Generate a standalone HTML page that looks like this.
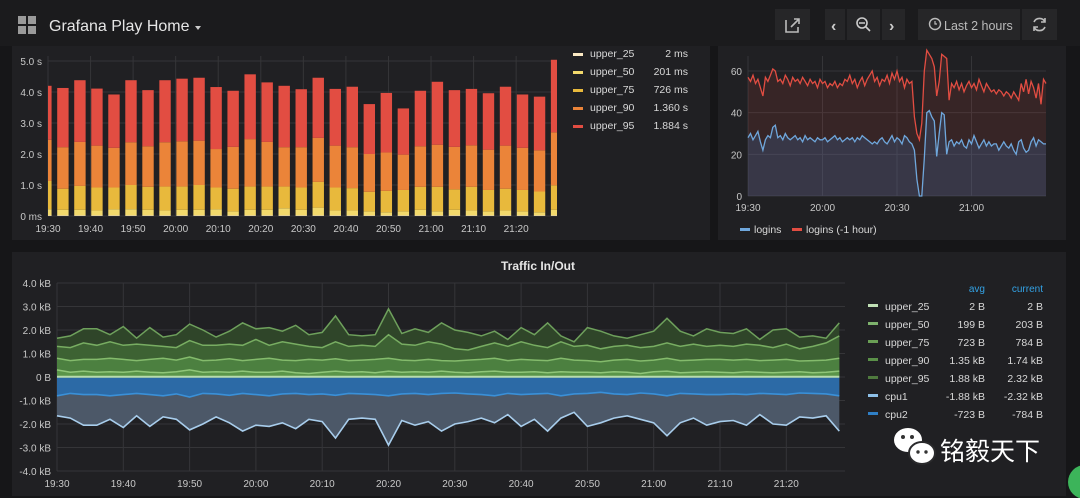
<!DOCTYPE html>
<html><head><meta charset="utf-8"><style>
html,body{margin:0;padding:0;background:#161618;width:1080px;height:498px;overflow:hidden}
svg{display:block;font-family:"Liberation Sans","Noto Sans CJK SC",sans-serif}
</style></head><body>
<svg id="root" width="1080" height="498" viewBox="0 0 1080 498">
<rect x="0" y="0" width="1080" height="498" fill="#161618"/>
<g>
<rect x="0" y="0" width="1080" height="46" fill="#1b1b1d"/>
<g fill="#9a9a9a"><rect x="18" y="16" width="8" height="8"/><rect x="28" y="16" width="8" height="8"/><rect x="18" y="26" width="8" height="8"/><rect x="28" y="26" width="8" height="8"/></g>
<text x="49" y="31" fill="#e6e6e6" font-size="16">Grafana Play Home</text>
<path d="M195 26 l6 0 l-3 4 z" fill="#ccc"/>
<rect x="775" y="9" width="35" height="31" fill="#262628"/>
<path d="M786 20 v12 h12 v-5 M791 27 l8-8 m-5 0 h5 v5" stroke="#bbb" stroke-width="1.6" fill="none"/>
<rect x="825" y="9" width="20" height="31" fill="#262628"/>
<text x="831" y="31" fill="#ccc" font-size="16" font-weight="bold">‹</text>
<rect x="847" y="9" width="33" height="31" fill="#262628"/>
<circle cx="862" cy="23" r="5" stroke="#ccc" stroke-width="1.6" fill="none"/><path d="M859 23 h6 M866 27 l4 4" stroke="#ccc" stroke-width="1.6"/>
<rect x="882" y="9" width="23" height="31" fill="#262628"/>
<text x="889" y="31" fill="#ccc" font-size="16" font-weight="bold">›</text>
<rect x="918" y="9" width="102" height="31" fill="#262628"/>
<circle cx="935" cy="24" r="5.5" stroke="#bbb" stroke-width="1.4" fill="none"/><path d="M935 21 v3 h2" stroke="#bbb" stroke-width="1.2" fill="none"/>
<text x="944" y="30" fill="#bbb" font-size="12.5">Last 2 hours</text>
<rect x="1022" y="9" width="35" height="31" fill="#262628"/>
<path d="M1034 22 a6 6 0 0 1 11 0 M1045 27 a6 6 0 0 1 -11 0 M1045 18 v4 h-4 M1034 31 v-4 h4" stroke="#bbb" stroke-width="1.6" fill="none"/>
</g>
<rect x="12" y="46" width="698" height="194" fill="#202023"/>
<rect x="718" y="46" width="348" height="194" fill="#202023"/>
<rect x="12" y="252" width="1054" height="244" fill="#202023"/>
<g id="g1"></g><g id="g2"></g><g id="g3"></g>
<g>
<ellipse cx="908" cy="440" rx="14" ry="12" fill="#fff"/><ellipse cx="922" cy="453" rx="13" ry="11" fill="#fff" stroke="#2a2a2c" stroke-width="2"/>
<circle cx="903" cy="437" r="2" fill="#333"/><circle cx="912" cy="437" r="2" fill="#333"/><circle cx="918" cy="452" r="1.7" fill="#333"/><circle cx="926" cy="452" r="1.7" fill="#333"/>
<text x="940" y="460" fill="#fff" font-size="25">铭毅天下</text>
</g>
<circle cx="1085" cy="482" r="17" fill="#3cb45a"/>
</svg>
<script>
const barTimes=[-0.5,3.5,7.5,11.5,15.5,19.5,23.5,27.5,31.5,35.5,39.5,43.5,47.5,51.5,55.5,59.5,63.5,67.5,71.5,75.5,79.5,83.5,87.5,91.5,95.5,99.5,103.5,107.5,111.5,115.5,119.5];
const u25=[0.02,0.02,0.02,0.02,0.02,0.02,0.02,0.02,0.02,0.02,0.02,0.02,0.02,0.02,0.02,0.02,0.02,0.02,0.02,0.02,0.02,0.02,0.02,0.02,0.02,0.02,0.02,0.02,0.02,0.02,0.02];
const u50=[0.22,0.2,0.2,0.18,0.22,0.22,0.2,0.18,0.2,0.2,0.22,0.15,0.2,0.2,0.25,0.2,0.27,0.18,0.18,0.15,0.12,0.15,0.2,0.15,0.2,0.18,0.15,0.18,0.15,0.12,0.2];
const u75=[1.13,0.88,0.97,0.92,0.92,1.0,0.94,0.95,0.95,1.0,0.92,0.88,0.95,0.95,0.95,0.92,1.1,0.92,0.9,0.78,0.81,0.84,0.94,0.94,0.86,0.94,0.84,0.88,0.84,0.79,0.99];
const u90=[2.46,2.22,2.39,2.27,2.2,2.38,2.25,2.38,2.41,2.43,2.16,2.23,2.48,2.39,2.22,2.22,2.52,2.27,2.22,2.0,2.05,1.98,2.25,2.3,2.23,2.28,2.14,2.27,2.2,2.12,2.7];
const u95=[4.2,4.13,4.38,4.11,3.92,4.38,4.06,4.38,4.43,4.46,4.16,4.04,4.57,4.31,4.2,4.09,4.46,4.1,4.17,3.61,3.97,3.47,4.04,4.33,4.06,4.1,3.96,4.17,3.92,3.85,5.04];
const yTicks1=["0 ms","1.0 s","2.0 s","3.0 s","4.0 s","5.0 s"];
const xTicks1=["19:30","19:40","19:50","20:00","20:10","20:20","20:30","20:40","20:50","21:00","21:10","21:20"];
const legend1Names=["upper_25","upper_50","upper_75","upper_90","upper_95"];
const legend1Vals=["2 ms","201 ms","726 ms","1.360 s","1.884 s"];
const logins=[28,30,27,29,31,26,22,27,29,28,33,34,28,29,27,30,28,27,28,29,27,28,26,29,27,28,27,26,28,27,27,28,26,27,28,29,27,28,26,27,28,27,28,26,28,27,29,28,27,26,25,26,25,27,28,26,25,27,29,26,28,27,25,29,28,26,25,22,8,0,0,18,40,41,38,36,19,30,40,39,20,26,27,24,26,25,27,24,23,27,25,29,26,23,25,27,24,26,24,25,25,22,24,26,24,23,25,22,20,26,27,23,21,22,26,28,24,27,26,25,25];
const loginsPrev=[57,55,58,54,56,52,48,57,55,58,61,60,55,56,54,58,56,53,57,55,56,54,57,55,53,56,54,55,52,56,54,55,52,54,53,55,52,54,53,56,55,58,54,56,52,55,57,53,56,58,60,55,57,53,56,55,58,54,59,56,60,55,57,52,56,54,55,38,30,27,35,60,70,68,66,62,48,55,68,67,66,46,54,52,55,51,54,50,53,55,52,54,51,56,53,50,54,52,50,51,49,51,50,48,50,49,47,50,48,46,54,50,56,49,55,52,47,54,44,56,54];
const yTicks2=["0","20","40","60"];
const xTicks2=["19:30","20:00","20:30","21:00"];
const t95=[1.65,1.75,2.05,2.05,1.8,2.15,1.65,2.1,1.7,1.8,2.25,2.0,1.7,1.95,2.3,2.05,2.1,1.95,2.2,1.8,1.9,2.6,1.8,1.75,1.8,2.9,1.85,2.05,1.9,2.3,2.0,1.9,1.75,1.95,1.6,2.1,1.8,2.3,1.75,1.5,2.1,1.95,1.75,1.65,1.8,1.95,2.5,1.95,1.75,2.05,1.9,1.85,2.05,1.6,2.0,2.05,1.7,1.75,1.65,2.3];
const t90=[1.3,1.25,1.45,1.35,1.5,1.35,1.4,1.35,1.3,1.25,1.55,1.35,1.35,1.4,1.35,1.6,1.35,1.5,1.4,1.3,1.25,1.5,1.3,1.35,1.3,1.8,1.4,1.35,1.5,1.4,1.2,1.15,1.3,1.45,1.3,1.5,1.35,1.25,1.5,1.3,1.35,1.2,1.3,1.35,1.25,1.3,1.45,1.3,1.4,1.3,1.35,1.3,1.4,1.35,1.25,1.4,1.2,1.3,1.45,1.75];
const t75=[0.8,0.7,0.75,0.75,0.8,0.75,0.7,0.75,0.8,0.72,0.85,0.7,0.72,0.78,0.7,0.75,0.8,0.72,0.7,0.75,0.72,0.78,0.7,0.72,0.75,0.8,0.72,0.7,0.75,0.7,0.68,0.72,0.75,0.8,0.7,0.75,0.72,0.7,0.8,0.72,0.7,0.65,0.72,0.75,0.68,0.72,0.8,0.7,0.72,0.75,0.75,0.72,0.75,0.7,0.72,0.75,0.68,0.7,0.72,0.8];
const t50=[0.3,0.2,0.25,0.2,0.22,0.2,0.25,0.2,0.18,0.22,0.3,0.2,0.22,0.2,0.25,0.2,0.2,0.25,0.18,0.15,0.2,0.25,0.2,0.22,0.18,0.25,0.2,0.22,0.2,0.25,0.2,0.18,0.22,0.25,0.2,0.2,0.22,0.18,0.22,0.2,0.2,0.18,0.22,0.2,0.15,0.22,0.25,0.18,0.2,0.22,0.2,0.18,0.22,0.2,0.18,0.2,0.22,0.18,0.2,0.25];
const t25=[0.01,0.01,0.01,0.01,0.01,0.01,0.01,0.01,0.01,0.01,0.01,0.01,0.01,0.01,0.01,0.01,0.01,0.01,0.01,0.01,0.01,0.01,0.01,0.01,0.01,0.01,0.01,0.01,0.01,0.01,0.01,0.01,0.01,0.01,0.01,0.01,0.01,0.01,0.01,0.01,0.01,0.01,0.01,0.01,0.01,0.01,0.01,0.01,0.01,0.01,0.01,0.01,0.01,0.01,0.01,0.01,0.01,0.01,0.01,0.01];
const cpu1=[-1.65,-1.75,-2.05,-2.05,-1.8,-2.15,-1.65,-2.1,-1.7,-1.8,-2.25,-2.0,-1.7,-1.95,-2.3,-2.05,-2.1,-1.95,-2.2,-1.8,-1.9,-2.6,-1.8,-1.75,-1.8,-2.9,-1.85,-2.05,-1.9,-2.3,-2.0,-1.9,-1.75,-1.95,-1.6,-2.1,-1.8,-2.3,-1.75,-1.5,-2.1,-1.95,-1.75,-1.65,-1.8,-1.95,-2.5,-1.95,-1.75,-2.05,-1.9,-1.85,-2.05,-1.6,-2.0,-2.05,-1.7,-1.75,-1.65,-2.3];
const cpu2=[-0.8,-0.7,-0.75,-0.75,-0.8,-0.75,-0.7,-0.75,-0.8,-0.72,-0.85,-0.7,-0.72,-0.78,-0.7,-0.75,-0.8,-0.72,-0.7,-0.75,-0.72,-0.78,-0.7,-0.72,-0.75,-0.8,-0.72,-0.7,-0.75,-0.7,-0.68,-0.72,-0.75,-0.8,-0.7,-0.75,-0.72,-0.7,-0.8,-0.72,-0.7,-0.65,-0.72,-0.75,-0.68,-0.72,-0.8,-0.7,-0.72,-0.75,-0.75,-0.72,-0.75,-0.7,-0.72,-0.75,-0.68,-0.7,-0.72,-0.8];
const yTicks3=["-4.0 kB","-3.0 kB","-2.0 kB","-1.0 kB","0 B","1.0 kB","2.0 kB","3.0 kB","4.0 kB"];
const xTicks3=["19:30","19:40","19:50","20:00","20:10","20:20","20:30","20:40","20:50","21:00","21:10","21:20"];
const legend3Names=["upper_25","upper_50","upper_75","upper_90","upper_95","cpu1","cpu2"];
const legend3Avg=["2 B","199 B","723 B","1.35 kB","1.88 kB","-1.88 kB","-723 B"];
const legend3Cur=["2 B","203 B","784 B","1.74 kB","2.32 kB","-2.32 kB","-784 B"];

const NS="http://www.w3.org/2000/svg";
function mk(parent,tag,attrs,text){const e=document.createElementNS(NS,tag);for(const k in attrs)e.setAttribute(k,attrs[k]);if(text!==undefined)e.textContent=text;parent.appendChild(e);return e;}
const gridC="#353538", tickC="#c8c8c8";

(function(){
const g=document.getElementById('g1');
const L=48,R=557,T=56,B=216;
const x=t=>L+t*(R-L)/119.6, y=v=>B-v*31;
const defs=mk(g,'defs',{});const cp=mk(defs,'clipPath',{id:'c1'});mk(cp,'rect',{x:L,y:T-10,width:R-L,height:B-T+12});
yTicks1.forEach((s,i)=>{const l=mk(g,'line',{x1:L,x2:R,y1:y(i),y2:y(i),stroke:gridC});

const t=mk(g,'text',{x:L-6,y:y(i)+4,fill:tickC,'font-size':10,'text-anchor':'end'},s);
});
xTicks1.forEach((s,i)=>{const l=mk(g,'line',{x1:x(i*10),x2:x(i*10),y1:T,y2:B,stroke:gridC});

const t=mk(g,'text',{x:x(i*10),y:B+16,fill:tickC,'font-size':10,'text-anchor':'middle'},s);
});
const bg=mk(g,'g',{'clip-path':'url(#c1)'});
const cols=["#fbe9c4","#f2d96c","#e8b93c","#eb8439","#e24d42"];
const w=11.4;
barTimes.forEach((t,i)=>{const tops=[u25[i],u50[i],u75[i],u90[i],u95[i]];let prev=0;
tops.forEach((v,k)=>{const r=mk(bg,'rect',{x:x(t)-w/2,y:y(v),width:w,height:Math.max(0,y(prev)-y(v)),fill:cols[k]});
prev=v;});});
legend1Names.forEach((n,i)=>{const yy=56+i*18;
const s=mk(g,'rect',{x:573,y:yy-3,width:10,height:3,fill:cols[i]});
const t=mk(g,'text',{x:590,y:yy+1,fill:"#d8d8d8",'font-size':10.5},n);
const v=mk(g,'text',{x:688,y:yy+1,fill:"#d8d8d8",'font-size':10.5,'text-anchor':'end'},legend1Vals[i]);});
})();

(function(){
const g=document.getElementById('g2');
const L=748,R=1046,T=56,B=196;
const x=m=>L+m*(R-L)/120, y=v=>B-v*125/60;
yTicks2.forEach((s,i)=>{const v=i*20;const l=mk(g,'line',{x1:L,x2:R,y1:y(v),y2:y(v),stroke:gridC});

const t=mk(g,'text',{x:L-6,y:y(v)+4,fill:tickC,'font-size':10,'text-anchor':'end'},s);
});
xTicks2.forEach((s,i)=>{const l=mk(g,'line',{x1:x(i*30),x2:x(i*30),y1:T,y2:B,stroke:gridC});

const t=mk(g,'text',{x:x(i*30),y:B+15,fill:tickC,'font-size':10,'text-anchor':'middle'},s);
});
function series(arr,line,fill,name){const pts=arr.map((v,i)=>x(i).toFixed(1)+','+y(v).toFixed(1));
const a=mk(g,'path',{d:'M'+x(0)+','+B+' L'+pts.join(' L')+' L'+x(arr.length-1)+','+B+' Z',fill:fill});

const l=mk(g,'path',{d:'M'+pts.join(' L'),fill:'none',stroke:line,'stroke-width':1.3});
}
series(loginsPrev,"#e24d42","rgba(226,77,66,0.12)","logins-prev");
series(logins,"#6fa7dc","rgba(60,110,170,0.25)","logins");
[["logins","#6fa7dc",740],["logins (-1 hour)","#e24d42",792]].forEach(([n,c,xx])=>{
const s=mk(g,'rect',{x:xx,y:228,width:10,height:3,fill:c});
const t=mk(g,'text',{x:xx+14,y:233,fill:"#d8d8d8",'font-size':10.5},n);});
})();

(function(){
const g=document.getElementById('g3');
const L=57,R=845,T=283,B=471,Z=377;
const x=m=>L+m*6.63, y=v=>Z-v*23.5;
const t0=mk(g,'text',{x:538,y:270,fill:"#e6e6e6",'font-size':12,'font-weight':'bold','text-anchor':'middle'},"Traffic In/Out");

yTicks3.forEach((s,i)=>{const v=i-4;const l=mk(g,'line',{x1:L,x2:R,y1:y(v),y2:y(v),stroke:gridC});

const t=mk(g,'text',{x:L-6,y:y(v)+4,fill:tickC,'font-size':10,'text-anchor':'end'},s);
});
xTicks3.forEach((s,i)=>{const l=mk(g,'line',{x1:x(i*10),x2:x(i*10),y1:T,y2:B,stroke:gridC});

const t=mk(g,'text',{x:x(i*10),y:B+16,fill:tickC,'font-size':10,'text-anchor':'middle'},s);
});
function series(arr,line,fill,name,sw){const pts=arr.map((v,i)=>x(i*2).toFixed(1)+','+y(v).toFixed(1));
const a=mk(g,'path',{d:'M'+x(0)+','+Z+' L'+pts.join(' L')+' L'+x((arr.length-1)*2)+','+Z+' Z',fill:fill});

const l=mk(g,'path',{d:'M'+pts.join(' L'),fill:'none',stroke:line,'stroke-width':sw});
}
series(t95,"#6ea05c","#2f4529","upper_95",1.5);
series(t90,"#78ad62","#3d6233","upper_90",1.5);
series(t75,"#84bb6c","#4c8040","upper_75",1.5);
series(t50,"#90c679","#5a9549","upper_50",1.5);
series(cpu1,"#a8cdec","#4c5868","cpu1",1.6);
series(cpu2,"#3a90d8","#2c6aa6","cpu2",1.6);
series(t25,"#b7dbab","none","upper_25",2);
const lc=["#c0e0b5","#7eb26d","#6a9f55","#5a9048","#4f7a3e","#8ec0e8","#2f7fc6"];
const h1=mk(g,'text',{x:985,y:292,fill:"#33a2e5",'font-size':10,'text-anchor':'end'},"avg");
const h2=mk(g,'text',{x:1043,y:292,fill:"#33a2e5",'font-size':10,'text-anchor':'end'},"current");
legend3Names.forEach((n,i)=>{const yy=306+i*18;
const s=mk(g,'rect',{x:868,y:yy-2,width:10,height:3,fill:lc[i]});
const t=mk(g,'text',{x:885,y:yy+4,fill:"#d8d8d8",'font-size':10.5},n);
const a=mk(g,'text',{x:985,y:yy+4,fill:"#d8d8d8",'font-size':10.5,'text-anchor':'end'},legend3Avg[i]);
const c=mk(g,'text',{x:1043,y:yy+4,fill:"#d8d8d8",'font-size':10.5,'text-anchor':'end'},legend3Cur[i]);});
})();
</script>
</body></html>
